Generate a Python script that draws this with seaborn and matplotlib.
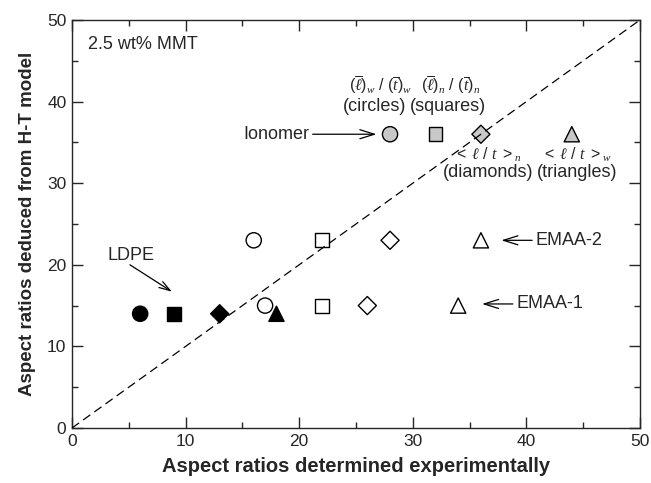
import matplotlib
matplotlib.use("Agg")
from matplotlib import pyplot as plt
from matplotlib.ticker import MultipleLocator
import pandas as pd
import seaborn as sns

# one row per polymer matrix, model value is shared by all four estimates
groups = ["LDPE", "EMAA-1", "EMAA-2", "Ionomer"]
model_ratio = [14, 15, 23, 36]
circles_x = [6, 17, 16, 28]     # (l)_w / (t)_w
squares_x = [9, 22, 22, 32]     # (l)_n / (t)_n
diamonds_x = [13, 26, 28, 36]   # <l/t>_n
triangles_x = [18, 34, 36, 44]  # <l/t>_w

shapes = {"circles": circles_x, "squares": squares_x,
          "diamonds": diamonds_x, "triangles": triangles_x}
rows = []
for shape, xs in shapes.items():
    for g, xv, yv in zip(groups, xs, model_ratio):
        rows.append({"group": g, "shape": shape, "exp": xv, "model": yv})
df = pd.DataFrame(rows)

sns.set_style("ticks")
plt.rcParams["font.family"] = ["Liberation Sans", "DejaVu Sans"]
plt.rcParams["mathtext.fontset"] = "custom"
plt.rcParams["mathtext.rm"] = "Liberation Sans"
plt.rcParams["mathtext.it"] = "Liberation Serif:italic"
plt.rcParams["mathtext.bf"] = "Liberation Sans:bold"

fig = plt.figure(figsize=(6.51, 4.83), dpi=100)
ax = fig.add_axes([0.1106, 0.1139, 0.8724, 0.8447])

sns.scatterplot(
    data=df, x="exp", y="model",
    hue="group", style="shape", size="shape",
    palette={"LDPE": "black", "EMAA-1": "white", "EMAA-2": "white",
             "Ionomer": "#c8c8c8"},
    markers={"circles": "o", "squares": "s", "diamonds": "D", "triangles": "^"},
    sizes={"circles": 120, "squares": 100, "diamonds": 85, "triangles": 120},
    edgecolor="black", linewidth=1.0, legend=False, zorder=2, ax=ax,
)

# 1:1 line, drawn above the markers like the original
ax.plot([0, 50], [0, 50], color="black", lw=0.9, dashes=(7, 4), zorder=3)

ax.set_xlim(0, 50)
ax.set_ylim(0, 50)
ax.xaxis.set_major_locator(MultipleLocator(10))
ax.xaxis.set_minor_locator(MultipleLocator(5))
ax.yaxis.set_major_locator(MultipleLocator(10))
ax.yaxis.set_minor_locator(MultipleLocator(5))
ax.tick_params(which="both", direction="in", top=True, right=True,
               width=1.0, labelsize=12.5, pad=4)
ax.tick_params(which="major", length=8)
ax.tick_params(which="minor", length=4.5)
for sp in ax.spines.values():
    sp.set_linewidth(1.0)

ax.set_xlabel("Aspect ratios determined experimentally",
              fontsize=14.5, fontweight="bold", labelpad=6)
ax.set_ylabel("Aspect ratios deduced from H-T model",
              fontsize=13.5, fontweight="bold", labelpad=8)

fs = 13
mfs = 11.5
ax.text(1.4, 47, "2.5 wt% MMT", fontsize=fs, va="center")

ax.text(27.2, 42.0, r"$(\overline{\ell})_w$ / $(\overline{\mathrm{\it{t}}})_w$",
        fontsize=mfs, ha="center", va="center")
ax.text(26.6, 39.4, "(circles)", fontsize=fs, ha="center", va="center")
ax.text(33.3, 42.0, r"$(\overline{\ell})_n$ / $(\overline{\mathrm{\it{t}}})_n$",
        fontsize=mfs, ha="center", va="center")
ax.text(33.1, 39.4, "(squares)", fontsize=fs, ha="center", va="center")

ax.text(36.6, 33.5, r"$<\ \ell$ / $t\ >_n$", fontsize=mfs, ha="center", va="center")
ax.text(36.6, 31.3, "(diamonds)", fontsize=fs, ha="center", va="center")
ax.text(44.4, 33.5, r"$<\ \ell$ / $t\ >_w$", fontsize=mfs, ha="center", va="center")
ax.text(44.5, 31.3, "(triangles)", fontsize=fs, ha="center", va="center")

arrow = dict(arrowstyle="->,head_length=0.8,head_width=0.25", lw=0.9,
             color="black", shrinkA=0, shrinkB=0)
ax.annotate("Ionomer", xy=(26.8, 36), xytext=(20.9, 36), fontsize=fs,
            ha="right", va="center", arrowprops=arrow)
ax.annotate("EMAA-2", xy=(37.8, 23), xytext=(40.8, 23), fontsize=fs,
            ha="left", va="center", arrowprops=arrow)
ax.annotate("EMAA-1", xy=(36.1, 15.2), xytext=(39.1, 15.2), fontsize=fs,
            ha="left", va="center", arrowprops=arrow)
ax.annotate("", xy=(8.8, 16.7), xytext=(5.1, 20.0), arrowprops=arrow)
ax.text(3.1, 21.1, "LDPE", fontsize=fs, ha="left", va="center")

fig.savefig("out.png", dpi=100)
